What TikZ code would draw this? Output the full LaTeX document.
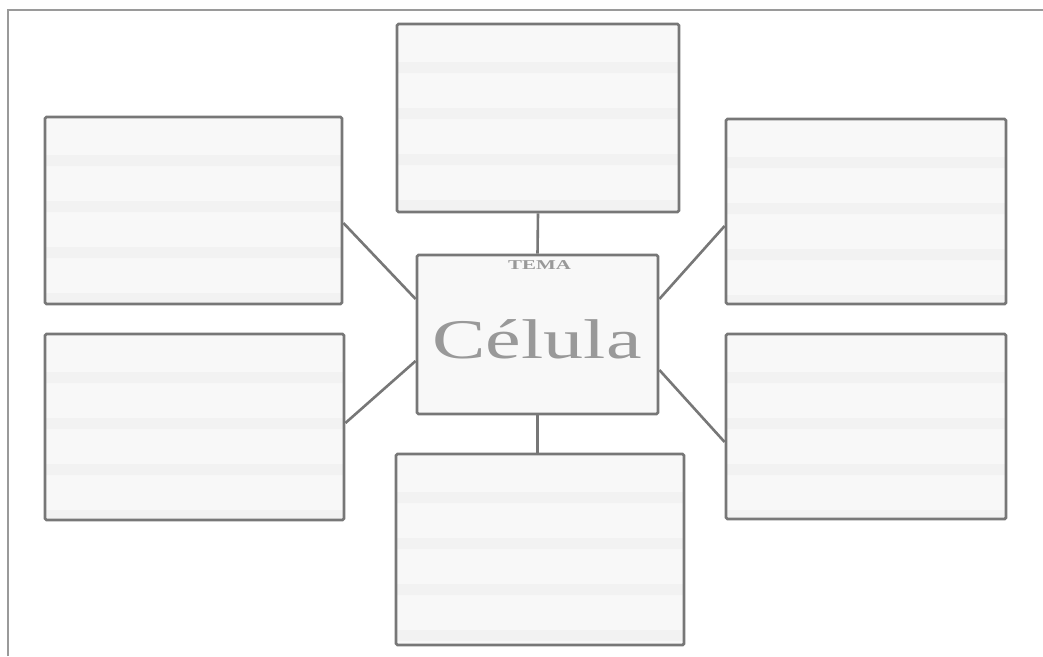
\documentclass[tikz,border=0pt]{standalone}
\usepackage{fontspec}
\setmainfont{Liberation Serif}
\usetikzlibrary{calc}
\definecolor{boxfill}{HTML}{F8F8F8}
\definecolor{bandc}{HTML}{F2F2F2}
\definecolor{edge}{HTML}{777777}
\definecolor{frame}{HTML}{9A9A9A}
\definecolor{txt}{HTML}{999999}
\tikzset{
  box/.style={draw=edge, line width=2.8pt, fill=boxfill, inner sep=0pt, rounded corners=1.5pt,
    path picture={\foreach \o in {38,84,130,176}{\fill[bandc] ([yshift=-\o pt]path picture bounding box.north west) rectangle ([yshift=-\o pt-11pt]path picture bounding box.north east);}}},
  cbox/.style={draw=edge, line width=2.8pt, fill=boxfill, inner sep=0pt, rounded corners=1.5pt},
  link/.style={draw=edge, line width=2.6pt}
}
\begin{document}
\begin{tikzpicture}[x=1pt,y=-1pt]
\useasboundingbox (0,0) rectangle (1043,656);
\fill[white] (0,0) rectangle (1043,656);
\draw[frame, line width=1.6pt] (8,656) -- (8,10) -- (1043,10);
\node[box, minimum width=282pt, minimum height=188pt] (t) at (538,118) {};
\node[box, minimum width=297pt, minimum height=187pt] (lt) at (193.5,210.5) {};
\node[box, minimum width=299pt, minimum height=186pt] (lb) at (194.5,427) {};
\node[box, minimum width=280pt, minimum height=185pt] (rt) at (866,211.5) {};
\node[box, minimum width=280pt, minimum height=185pt] (rb) at (866,426.5) {};
\node[box, minimum width=288pt, minimum height=191pt] (b) at (540,549.5) {};
\node[cbox, minimum width=241pt, minimum height=159pt] (c) at (537.5,334.5) {};
\node[text=txt, font=\bfseries\fontsize{13.5}{13.5}\selectfont, inner sep=0pt] (tema) at (539.5,265.5) {\scalebox{1.55}[1]{TEMA}};
\node[text=txt, font=\fontsize{56}{56}\selectfont, inner sep=0pt, anchor=base] (cel) at (537,358) {\scalebox{1.43}[1]{Célula}};
\draw[link] (t.south) -- (c.north);
\draw[link] (c.south) -- (c.south |- b.north);
\draw[link] ([yshift=-12.5pt]lt.east) -- ([yshift=35.5pt]c.west);
\draw[link] ([yshift=4pt]lb.east) -- ([yshift=-26.5pt]c.west);
\draw[link] ([yshift=-14.5pt]rt.west) -- ([yshift=35.5pt]c.east);
\draw[link] ([yshift=-15.5pt]rb.west) -- ([yshift=-35.5pt]c.east);
\end{tikzpicture}
\end{document}
